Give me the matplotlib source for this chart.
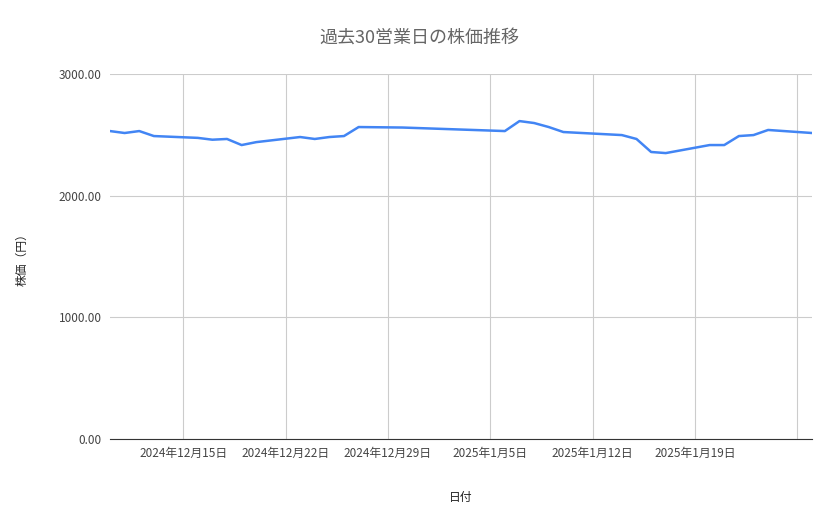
import matplotlib
matplotlib.use("Agg")
import matplotlib.pyplot as plt
import matplotlib.dates as mdates
import pandas as pd

plt.rcParams['font.family'] = ['Noto Sans CJK JP', 'DejaVu Sans']

dates = ["2024-12-10","2024-12-11","2024-12-12","2024-12-13","2024-12-16","2024-12-17",
         "2024-12-18","2024-12-19","2024-12-20","2024-12-23","2024-12-24","2024-12-25",
         "2024-12-26","2024-12-27","2024-12-30","2025-01-06","2025-01-07","2025-01-08",
         "2025-01-09","2025-01-10","2025-01-14","2025-01-15","2025-01-16","2025-01-17",
         "2025-01-20","2025-01-21","2025-01-22","2025-01-23","2025-01-24","2025-01-27"]
prices = [2531, 2515, 2531, 2490, 2475, 2460, 2466, 2416, 2440, 2482, 2466, 2482,
          2490, 2564, 2560, 2531, 2613, 2597, 2564, 2523, 2498, 2466, 2359, 2350,
          2416, 2416, 2490, 2498, 2540, 2515]
tick_dates = ["2024-12-15","2024-12-22","2024-12-29","2025-01-05","2025-01-12","2025-01-19","2025-01-26"]
tick_labels = ["2024年12月15日","2024年12月22日","2024年12月29日","2025年1月5日","2025年1月12日","2025年1月19日",""]
yticks = [0, 1000, 2000, 3000]

x = pd.to_datetime(dates)
fig = plt.figure(figsize=(8.39, 5.19), dpi=100)
ax = fig.add_axes([110/839, 80/519, 702/839, 365/519])
ax.plot(x, prices, color='#4285F4', lw=1.8)
ax.set_xlim(pd.Timestamp("2024-12-10"), pd.Timestamp("2025-01-27"))
ax.set_ylim(0, 3000)
ax.set_yticks(yticks)
ax.set_yticklabels([f"{v:.2f}" for v in yticks])
ax.set_xticks(pd.to_datetime(tick_dates))
ax.set_xticklabels(tick_labels)
ax.grid(True, color='#cccccc', lw=0.8)
ax.set_axisbelow(True)
for s in ['top', 'right', 'left']:
    ax.spines[s].set_visible(False)
ax.spines['bottom'].set_color('#333333')
ax.tick_params(length=0, labelsize=8.5, colors='#444444', pad=6)
ax.set_xlabel("日付", fontsize=8.5, color='#222222', labelpad=22)
ax.set_ylabel("株価（円）", fontsize=8.5, color='#222222', labelpad=22)
fig.text(0.5, 1 - 38/519, "過去30営業日の株価推移", ha='center', va='center', fontsize=13, color='#666666')
fig.savefig("out.png", dpi=100, facecolor='white')
